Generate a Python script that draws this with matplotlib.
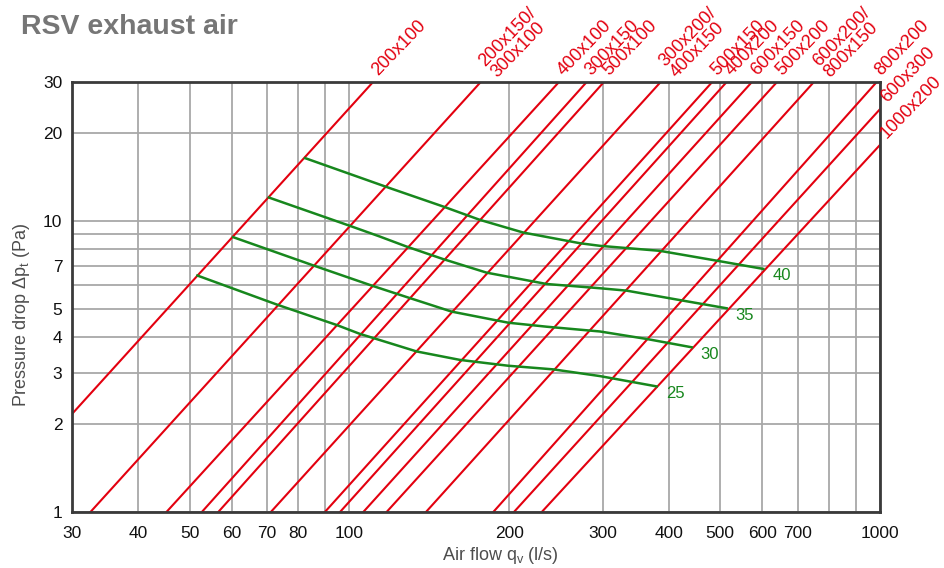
import matplotlib
matplotlib.use('Agg')
import matplotlib.pyplot as plt
import numpy as np

plt.rcParams['font.family'] = ['Liberation Sans', 'DejaVu Sans']

# duct sizes (red lines): air flow q (l/s) where each line reads 1 Pa and 30 Pa
duct_labels = ['200x100', '200x150/\n300x100', '400x100', '300x150', '500x100',
               '300x200/\n400x150', '500x150', '400x200', '600x150', '500x200',
               '600x200/\n800x150', '800x200', '600x300', '1000x200']
q_at_1pa = [20.4, 32.5, 45.2, 52.7, 56.6, 71.1, 89.9, 96.0, 106.2, 117.5,
            139.4, 186.7, 204.2, 230.4]
q_at_30pa = [110.8, 176.8, 248.3, 280.0, 301.8, 386.0, 482.8, 514.0, 573.6, 639.6,
             750.6, 985.8, 1113.0, 1286.0]

# throw curves (green), label = throw length
curve_labels = ['40', '35', '30', '25']
curve_q = [
    [82.5, 119.3, 150.3, 176.2, 212.6, 272.0, 296.6, 384.9, 492.4, 602.7],
    [70.5, 100.3, 114.2, 128.2, 150.3, 181.4, 235.4, 296.6, 333.0, 425.8, 514.0],
    [60.4, 85.7, 110.6, 130.0, 155.8, 199.2, 235.4, 296.6, 363.3, 441.7],
    [51.7, 73.4, 94.6, 104.7, 133.9, 161.6, 199.2, 242.2, 296.6, 379.5],
]
curve_dp = [
    [16.43, 12.95, 11.2, 10.08, 9.12, 8.38, 8.21, 7.89, 7.30, 6.84],
    [12.03, 9.61, 8.83, 8.16, 7.39, 6.64, 6.07, 5.87, 5.76, 5.32, 5.01],
    [8.79, 7.02, 5.98, 5.43, 4.88, 4.47, 4.33, 4.17, 3.93, 3.68],
    [6.49, 5.14, 4.39, 4.09, 3.56, 3.33, 3.18, 3.09, 2.93, 2.70],
]

x_ticks = [30, 40, 50, 60, 70, 80, 100, 200, 300, 400, 500, 600, 700, 1000]
x_minor = [90, 800, 900]
y_ticks = [1, 2, 3, 4, 5, 7, 10, 20, 30]
y_minor = [6, 8, 9]

red = '#e3000f'
green = '#17871d'

fig = plt.figure(figsize=(9.45, 5.68), dpi=100)
ax = fig.add_axes([72/945, 1-512/568, 808/945, 430/568])
ax.set_xscale('log')
ax.set_yscale('log')
ax.set_xlim(30, 1000)
ax.set_ylim(1, 30)

ax.set_xticks(x_ticks)
ax.set_xticklabels([str(v) for v in x_ticks])
ax.set_xticks(x_minor, minor=True)
ax.set_xticklabels([], minor=True)
ax.set_yticks(y_ticks)
ax.set_yticklabels([str(v) for v in y_ticks])
ax.set_yticks(y_minor, minor=True)
ax.set_yticklabels([], minor=True)
ax.tick_params(which='both', length=0, labelsize=12.5, colors='#111111')
ax.tick_params(axis='x', pad=10)
ax.tick_params(axis='y', pad=7)
ax.grid(True, which='both', color='#a8a8a8', linewidth=1.3)
ax.set_axisbelow(True)
for s in ax.spines.values():
    s.set_color('#3a3a3a')
    s.set_linewidth(2)

for lab, q1, q30 in zip(duct_labels, q_at_1pa, q_at_30pa):
    ax.plot([q1, q30], [1, 30], color=red, linewidth=1.5, zorder=2)
    if q30 <= 1000:
        xy = (q30, 30)
        off = (17, 3) if '\n' in lab else (5, 6)
    else:
        # where the line meets the right edge
        dp_edge = 30 ** (np.log(1000 / q1) / np.log(q30 / q1))
        xy = (1000, dp_edge)
        off = (7, 6)
    ax.annotate(lab, xy=xy, xytext=off, textcoords='offset pixels',
                rotation=46, rotation_mode='anchor', ha='left', va='baseline',
                color=red, fontsize=13, linespacing=0.92, annotation_clip=False)

for lab, qs, dps in zip(curve_labels, curve_q, curve_dp):
    ax.plot(qs, dps, color=green, linewidth=1.8, zorder=3)
    ax.annotate(lab, xy=(qs[-1], dps[-1]), xytext=(9, -7), textcoords='offset pixels',
                ha='left', va='center', color=green, fontsize=12)

fig.text(21/945, 1-34/568, 'RSV exhaust air', fontsize=20.5, fontweight='bold',
         color='#767676', ha='left', va='baseline')
fig.text(22/945, 1-315/568, 'Pressure drop \u0394p$_\\mathregular{t}$ (Pa)', rotation=90,
         ha='center', va='center', fontsize=13, color='#4d4d4d')
fig.text(500/945, 1-556/568, 'Air flow q$_\\mathregular{v}$ (l/s)',
         ha='center', va='center', fontsize=13, color='#4d4d4d')

fig.savefig('out.png', dpi=100)
plt.close(fig)
